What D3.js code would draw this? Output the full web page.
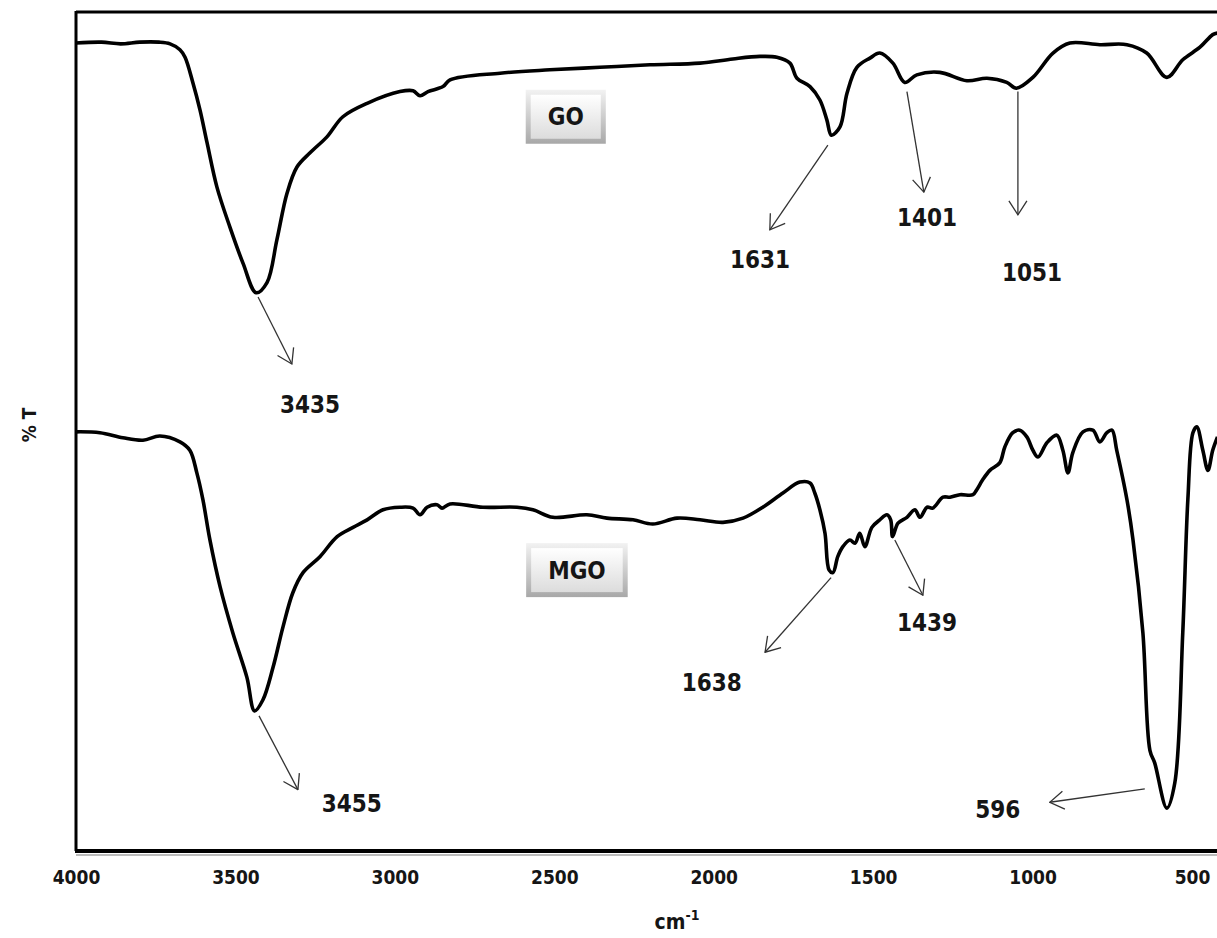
<!DOCTYPE html>
<html>
<head>
<meta charset="utf-8">
<script src="https://cdn.jsdelivr.net/npm/d3@7"></script>
<style>
	body {margin:0; background:#fff}
	svg {display:block}
	text {font-family:"DejaVu Sans Condensed","DejaVu Sans",sans-serif; font-weight:bold; fill:#151515}
</style>
</head>
<body>
<svg width="1217" height="938"></svg>
<script>
/*** Data : [wavenumber cm-1, %T] ***/
var goSpectrum = [
	[4000,96.3],[3920,96.4],[3860,96.2],[3800,96.4],[3740,96.4],[3705,96.2],[3674,95.5],[3658,94.6],
	[3633,91.5],[3611,88.3],[3589,84.4],[3558,79.1],[3517,74.3],[3476,70.0],[3435,66.5],[3401,67.7],
	[3370,72.8],[3338,78.4],[3307,81.5],[3266,83.2],[3213,85.1],[3163,87.5],[3087,89.1],[2984,90.5],
	[2943,90.6],[2921,90.0],[2896,90.5],[2849,91.1],[2827,91.9],[2670,92.7],[2514,93.1],[2357,93.4],
	[2200,93.7],[2043,93.9],[1940,94.4],[1855,94.7],[1802,94.6],[1761,93.9],[1739,92.1],[1698,91.1],
	[1667,89.5],[1645,87.1],[1631,85.3],[1604,86.3],[1582,90.3],[1551,93.4],[1510,94.5],[1479,95.1],
	[1438,93.9],[1401,91.6],[1363,92.5],[1291,92.8],[1206,91.8],[1143,92.1],[1081,91.6],[1051,90.9],
	[999,92.2],[936,95.1],[883,96.3],[789,96.1],[704,96.1],[642,95.1],[579,92.2],[529,94.3],
	[475,95.8],[435,97.3],[420,97.5]
]
var mgoSpectrum = [
	[4000,49.9],[3925,49.8],[3853,49.2],[3790,48.9],[3737,49.4],[3674,48.7],[3643,47.7],[3621,45.0],
	[3602,41.8],[3580,37.0],[3548,31.4],[3508,25.9],[3464,20.6],[3440,16.6],[3414,17.9],[3382,21.8],
	[3351,26.6],[3320,30.7],[3288,33.1],[3235,35.0],[3181,37.4],[3131,38.5],[3087,39.4],[3037,40.6],
	[2984,40.9],[2943,40.8],[2921,40.0],[2899,40.9],[2868,41.2],[2852,40.8],[2827,41.3],[2724,40.9],
	[2617,40.9],[2567,40.6],[2504,39.7],[2398,40.0],[2335,39.6],[2253,39.4],[2191,38.9],[2115,39.6],
	[2043,39.4],[1971,39.1],[1908,39.6],[1846,40.9],[1783,42.6],[1730,43.9],[1698,43.8],[1683,42.6],
	[1667,40.6],[1651,37.8],[1638,33.4],[1626,33.1],[1611,35.0],[1595,36.2],[1573,37.0],[1557,36.6],
	[1542,37.8],[1526,36.2],[1504,38.5],[1479,39.4],[1457,40.0],[1445,39.4],[1439,37.4],[1422,39.0],
	[1394,39.7],[1369,40.6],[1353,39.7],[1331,40.9],[1313,40.8],[1281,42.1],[1259,42.1],[1228,42.4],
	[1187,42.4],[1175,43.0],[1156,44.2],[1134,45.3],[1103,46.2],[1087,48.1],[1062,49.8],[1040,50.1],
	[1018,49.3],[999,47.7],[983,46.9],[955,48.6],[924,49.5],[905,47.7],[889,45.0],[874,47.4],
	[842,49.9],[811,50.1],[789,48.7],[767,49.8],[751,50.1],[736,47.7],[704,41.8],[685,37.0],
	[654,25.9],[632,11.9],[617,10.4],[579,5.0],[554,8.0],[529,25.9],[513,41.8],[497,49.8],
	[485,50.5],[466,47.7],[450,45.3],[435,47.7],[420,49.3]
]
var xTicks = [4000, 3500, 3000, 2500, 2000, 1500, 1000, 500]
var seriesNames = ["GO", "MGO"]
// sample box centres [wavenumber, %T]
var seriesBoxes = [[2464, 87.5], [2429, 33.4]]
// peak marks: label, arrow from [w,T], arrow to [w,T], text at [w,T]
var peakLabels = ["3435", "1631", "1401", "1051", "3455", "1638", "1439", "596"]
var peakFrom = [[3429,66.0],[1642,84.1],[1394,90.5],[1046,90.5],[3426,16.0],[1632,32.5],[1432,37.0],[648,7.3]]
var peakTo   = [[3323,58.0],[1824,74.0],[1341,78.5],[1046,75.8],[3304,7.2],[1839,23.6],[1344,30.4],[946,5.7]]
var peakText = [[3266,53.2],[1855,70.5],[1331,75.5],[1002,68.9],[3135,5.6],[2006,20.0],[1331,27.2],[1109,4.9]]

/*** Scales ***/
var m = d3.select("svg")
var x = d3.scaleLinear().domain([4000, 500]).range([76, 1192])
var y = d3.scaleLinear().domain([0, 100]).range([850, 12])
var line = d3.line()
	.x((d) => {return x(d[0])})
	.y((d) => {return y(d[1])})
	.curve(d3.curveCatmullRom.alpha(0.5))

var defs = m.append("defs")
defs.append("marker")
	.attr("id", "ah")
	.attr("viewBox", "0 0 16 20")
	.attr("refX", 15).attr("refY", 10)
	.attr("markerWidth", 16).attr("markerHeight", 20)
	.attr("markerUnits", "userSpaceOnUse")
	.attr("orient", "auto")
	.append("path")
	.attr("d", "M1,1 L15,10 L1,19")
	.attr("fill", "none").attr("stroke", "#333").attr("stroke-width", 1.3)
var g1 = defs.append("linearGradient").attr("id", "bOut").attr("x1", 0).attr("y1", 0).attr("x2", 0).attr("y2", 1)
g1.append("stop").attr("offset", 0).attr("stop-color", "#f2f2f2")
g1.append("stop").attr("offset", 1).attr("stop-color", "#a8a8a8")
var g2 = defs.append("linearGradient").attr("id", "bIn").attr("x1", 0).attr("y1", 0).attr("x2", 0).attr("y2", 1)
g2.append("stop").attr("offset", 0).attr("stop-color", "#ffffff")
g2.append("stop").attr("offset", 1).attr("stop-color", "#dcdcdc")

/*** Frame ***/
m.append("line").attr("x1", 76).attr("x2", 1217).attr("y1", 12).attr("y2", 12).attr("stroke", "#000").attr("stroke-width", 3)
m.append("line").attr("x1", 76).attr("x2", 76).attr("y1", 11).attr("y2", 851).attr("stroke", "#000").attr("stroke-width", 3)
m.append("line").attr("x1", 76).attr("x2", 1217).attr("y1", 855).attr("y2", 855).attr("stroke", "#bbb").attr("stroke-width", 2)
m.append("line").attr("x1", 75).attr("x2", 1217).attr("y1", 851).attr("y2", 851).attr("stroke", "#000").attr("stroke-width", 4)

var ax = m.append("g")
	.attr("transform", "translate(0,850)")
	.call(d3.axisBottom(x).tickValues(xTicks).tickSize(0).tickPadding(21).tickFormat(d3.format("d")))
ax.select(".domain").remove()
ax.selectAll("text")
	.attr("font-size", 19)
	.attr("font-family", null)
	.style("fill", "#151515")

/*** Spectra ***/
m.append("g").selectAll("path")
	.data([goSpectrum, mgoSpectrum])
	.enter()
	.append("path")
	.attr("d", line)
	.attr("fill", "none")
	.attr("stroke", "#000")
	.attr("stroke-width", 3.6)
	.attr("stroke-linejoin", "round")

/*** Sample boxes ***/
var b = m.append("g").selectAll("g")
	.data(seriesNames)
	.enter()
	.append("g")
	.attr("transform", (d, i) => {return "translate(" + x(seriesBoxes[i][0]) + "," + y(seriesBoxes[i][1]) + ")"})
b.each(function(d) {
	var s = d3.select(this)
	var t = s.append("text").text(d).attr("font-size", 24).attr("text-anchor", "middle").attr("dy", "0.36em")
		.attr("font-family", "'DejaVu Sans', sans-serif")
	var w = t.node().getComputedTextLength() + 44
	s.insert("rect", "text").attr("x", -w / 2).attr("y", -27).attr("width", w).attr("height", 54).attr("fill", "url(#bOut)")
	s.insert("rect", "text").attr("x", -w / 2 + 5).attr("y", -22).attr("width", w - 10).attr("height", 44).attr("fill", "url(#bIn)")
})

/*** Peak arrows and labels ***/
var a = m.append("g")
a.selectAll("line")
	.data(peakLabels)
	.enter()
	.append("line")
	.attr("x1", (d, i) => {return x(peakFrom[i][0])})
	.attr("y1", (d, i) => {return y(peakFrom[i][1])})
	.attr("x2", (d, i) => {return x(peakTo[i][0])})
	.attr("y2", (d, i) => {return y(peakTo[i][1])})
	.attr("stroke", "#333")
	.attr("stroke-width", 1.3)
	.attr("marker-end", "url(#ah)")
a.selectAll("text")
	.data(peakLabels)
	.enter()
	.append("text")
	.text((d) => {return d})
	.attr("x", (d, i) => {return x(peakText[i][0])})
	.attr("y", (d, i) => {return y(peakText[i][1])})
	.attr("dy", "0.36em")
	.attr("text-anchor", "middle")
	.attr("font-size", 24)

/*** Axis titles ***/
m.append("text")
	.attr("transform", "translate(36,425) rotate(-90)")
	.attr("text-anchor", "middle")
	.attr("font-size", 19)
	.attr("font-family", "'DejaVu Sans', sans-serif")
	.text("% T")
var xl = m.append("text")
	.attr("x", 677).attr("y", 929)
	.attr("text-anchor", "middle")
	.attr("font-size", 21)
	.attr("font-family", "'DejaVu Sans', sans-serif")
xl.append("tspan").text("cm")
xl.append("tspan").text("-1").attr("font-size", 14).attr("dy", -9)
</script>
</body>
</html>
